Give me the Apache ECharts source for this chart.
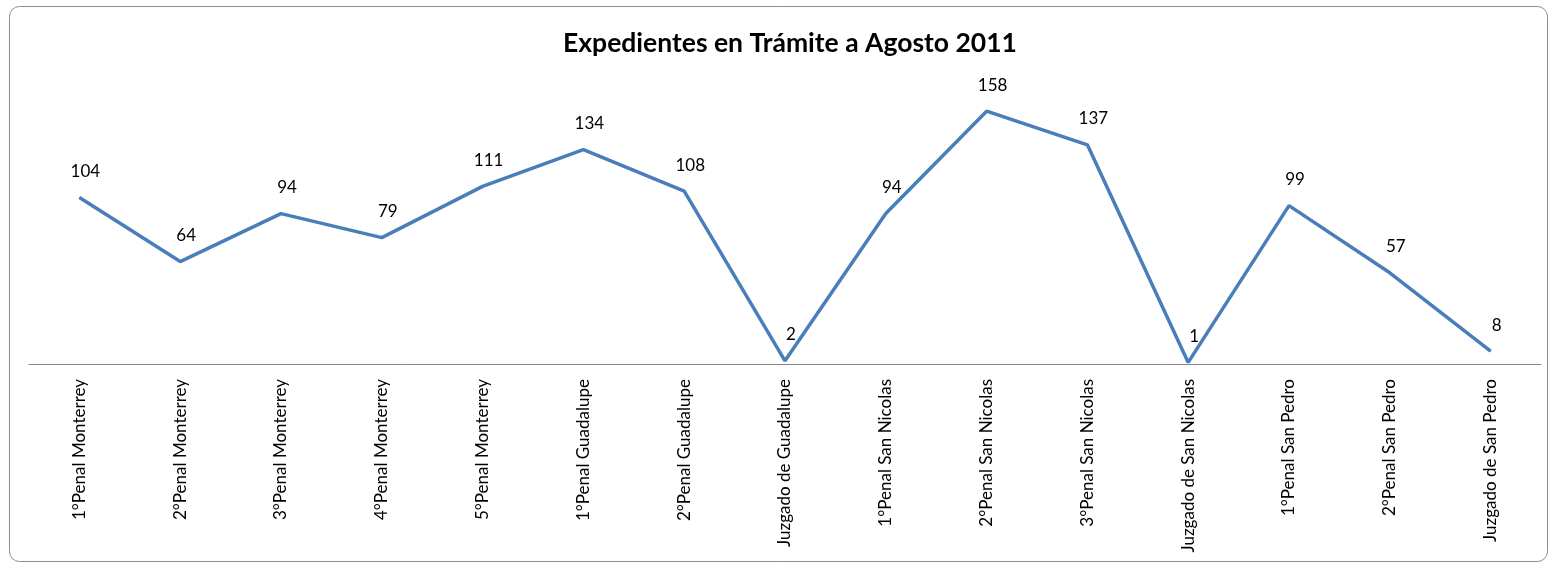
<!DOCTYPE html>
<html>
<head>
<meta charset="utf-8">
<script src="https://cdn.jsdelivr.net/npm/echarts@6/dist/echarts.min.js"></script>
<style>
  html, body { margin: 0; padding: 0; background: #fff; }
  #chart { width: 1555px; height: 572px; }
</style>
</head>
<body>
<div id="chart"></div>
<script>
// categorias (juzgados)
const categories = [
  "1°Penal Monterrey", "2°Penal Monterrey", "3°Penal Monterrey",
  "4°Penal Monterrey", "5°Penal Monterrey", "1°Penal Guadalupe",
  "2°Penal Guadalupe", "Juzgado de Guadalupe", "1°Penal San Nicolas",
  "2°Penal San Nicolas", "3°Penal San Nicolas", "Juzgado de San Nicolas",
  "1°Penal San Pedro", "2°Penal San Pedro", "Juzgado de San Pedro"
];
// expedientes en tramite
const expedientes = [104, 64, 94, 79, 111, 134, 108, 2, 94, 158, 137, 1, 99, 57, 8];

const chart = echarts.init(document.getElementById("chart"));
const font = "Lato, 'Open Sans', sans-serif";

const option = {
  animation: false,
  graphic: [
    {
      type: "rect",
      shape: { x: 9.5, y: 6.5, width: 1538, height: 555, r: 10 },
      style: { fill: "none", stroke: "#8c8c8c", lineWidth: 1 },
      silent: true,
    },
    {
      type: "text",
      x: 790,
      y: 43,
      style: {
        text: "Expedientes en Trámite a Agosto 2011",
        align: "center",
        verticalAlign: "middle",
        font: "bold 26.5px " + font,
        fill: "#000",
      },
      silent: true,
    },
  ],
  grid: { left: 29, right: 14, top: 108, bottom: 208 },
  xAxis: {
    type: "category",
    data: categories,
    boundaryGap: true,
    axisLine: { lineStyle: { color: "#868686", width: 1 } },
    axisTick: { show: false },
    axisLabel: {
      rotate: 90,
      interval: 0,
      margin: 15,
      fontFamily: font,
      fontSize: 17,
      color: "#000",
    },
  },
  yAxis: {
    type: "value",
    min: 0,
    max: 160,
    show: false,
    splitLine: { show: false },
  },
  series: [
    {
      type: "line",
      data: expedientes,
      symbol: "circle",
      symbolSize: 1,
      showSymbol: true,
      itemStyle: { color: "#4A7EBB" },
      lineStyle: { color: "#4A7EBB", width: 3.5 },
      label: {
        show: true,
        position: "top",
        distance: 17,
        offset: [6, 0],
        fontFamily: font,
        fontSize: 17,
        color: "#000",
      },
    },
  ],
};

chart.setOption(option);
</script>
</body>
</html>
